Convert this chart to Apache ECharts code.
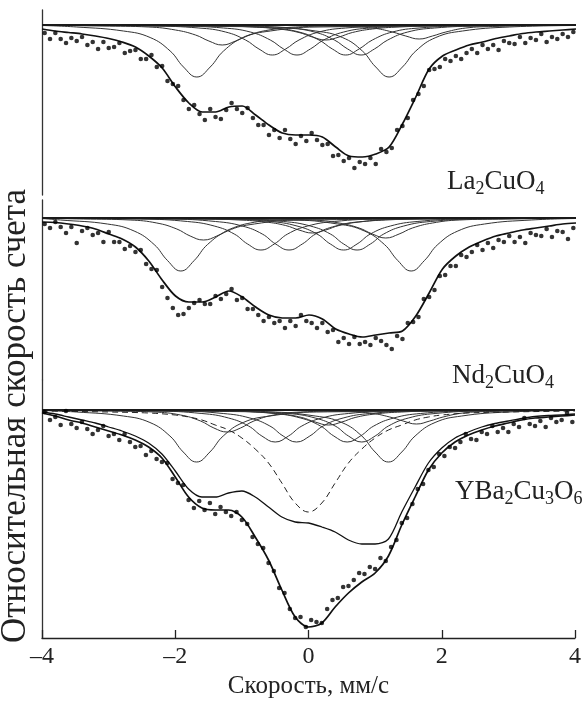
<!DOCTYPE html>
<html>
<head>
<meta charset="utf-8">
<script src="https://cdn.jsdelivr.net/npm/echarts@6/dist/echarts.min.js"></script>
<style>
html,body{margin:0;padding:0;background:#fff;}
#chart{width:584px;height:701px;}
</style>
</head>
<body>
<div id="chart"></div>
<script>
// ---------- DATA ----------
// velocity channels of the measured points, mm/s
const velocity = [
-3.96,-3.88,-3.80,-3.72,-3.64,-3.56,-3.48,-3.40,-3.32,-3.24,
-3.16,-3.08,-3.00,-2.92,-2.84,-2.76,-2.68,-2.60,-2.52,-2.44,
-2.36,-2.28,-2.20,-2.12,-2.04,-1.96,-1.88,-1.80,-1.72,-1.64,
-1.56,-1.48,-1.40,-1.32,-1.24,-1.16,-1.08,-1.00,-0.92,-0.84,
-0.76,-0.68,-0.60,-0.52,-0.44,-0.36,-0.28,-0.20,-0.12,-0.04,
0.04,0.12,0.20,0.28,0.36,0.44,0.52,0.60,0.68,0.76,
0.84,0.92,1.00,1.08,1.16,1.24,1.32,1.40,1.48,1.56,
1.64,1.72,1.80,1.88,1.96,2.04,2.12,2.20,2.28,2.36,
2.44,2.52,2.60,2.68,2.76,2.84,2.92,3.00,3.08,3.16,
3.24,3.32,3.40,3.48,3.56,3.64,3.72,3.80,3.88,3.96];

// velocities at which the fitted envelopes were read
const fitVelocity = [-4,-3.8,-3.6,-3.4,-3.2,-3,-2.8,-2.6,-2.4,-2.2,-2,-1.8,-1.6,-1.4,-1.2,-1,-0.8,-0.6,-0.4,-0.2,0,
0.2,0.4,0.6,0.8,1,1.2,1.4,1.6,1.8,2,2.2,2.4,2.6,2.8,3,3.2,3.4,3.6,3.8,4];

// relative count rate x1000
const laPoints = [992,986,992,986,982,987,984,988,980,983,
976,983,977,978,982,972,974,975,966,966,
970,958,959,944,941,939,925,916,920,911,
905,916,908,906,915,922,916,912,917,907,
900,900,890,895,887,895,886,881,889,884,
892,885,880,881,869,870,864,867,857,863,
861,867,861,876,873,877,895,899,907,925,
931,939,955,956,958,966,964,969,966,972,
976,972,980,976,980,975,984,982,981,988,
982,987,985,991,983,988,986,991,988,993];
const laFit = [996,994,992.5,991,989,986.5,983,978,969,957,938,922,913,913,918,919,910,900,892,890,890,
888,878,869,868,871,878,901,928,956,969,975,980,983,986.5,989,991.5,993,994,995,996];
const laCompX = [
 [-4,-3.48,-2.78,-2.38,-2.08,-1.88,-1.68,-1.48,-1.28,-0.98,-0.58,0.12,4],
 [-4,-0.6,0.1,0.5,0.8,1.0,1.2,1.4,1.6,1.9,2.3,3.0,4],
 [-4,-3.1,-2.4,-2.0,-1.7,-1.5,-1.3,-1.1,-0.9,-0.6,-0.2,0.5,4],
 [-4,-2.35,-1.65,-1.25,-0.95,-0.75,-0.55,-0.35,-0.15,0.15,0.55,1.25,4],
 [-4,-1.98,-1.28,-0.88,-0.58,-0.38,-0.18,0.02,0.22,0.52,0.92,1.62,4],
 [-4,-1.25,-0.55,-0.15,0.15,0.35,0.55,0.75,0.95,1.25,1.65,2.35,4],
 [-4,-1.02,-0.32,0.08,0.38,0.58,0.78,0.98,1.18,1.48,1.88,2.58,4],
 [-4,-1.55,-0.85,-0.45,-0.15,0.05,0.25,0.45,0.65,0.95,1.35,2.05,4],
 [-4,-0.15,0.55,0.95,1.25,1.45,1.65,1.85,2.05,2.35,2.75,3.45,4]];
const laCompY = [
 [999.5,998,994,987.5,974,958,948,958,974,987.5,994,998,999.5],
 [999.5,998,994,987.5,974,958,948,958,974,987.5,994,998,999.5],
 [999.7,999,998,995,990,984,980,984,990,995,998,999,999.7],
 [999.8,999,997,993,985,976,970,976,985,993,997,999,999.8],
 [999.8,999,997,993,985,976,970,976,985,993,997,999,999.8],
 [999.8,999,997,993,985,976,970,976,985,993,997,999,999.8],
 [999.8,999,997,993,985,976,970,976,985,993,997,999,999.8],
 [999.8,999.5,998,996,992.5,988,985,988,992.5,996,998,999.5,999.8],
 [999.8,999.5,998.5,997,993,989,986,989,993,997,998.5,999.5,999.8]];

const ndPoints = [994,990,996,991,985,991,975,987,990,983,
985,976,986,976,976,969,972,966,968,954,
949,948,931,920,910,903,904,910,915,918,
914,914,922,919,924,929,918,920,909,909,
903,897,901,895,897,890,897,892,903,897,
895,890,895,886,888,876,880,874,881,874,
876,873,880,877,873,869,882,879,895,896,
901,919,921,928,942,943,952,952,963,961,
966,973,968,975,970,978,976,982,976,981,
975,985,983,982,989,981,987,986,979,990];
const ndFit = [996,995.5,994,992,989,984,979,971,957,938,922,916,916,921,927,921,911,903,900,900,903,
899,889,884,881,883,885,887,902,925,949,962,971,977,982,985,988,990,992,994,995];
const ndCompX = [
 [-4,-3.72,-3.02,-2.62,-2.32,-2.12,-1.92,-1.72,-1.52,-1.22,-0.82,-0.12,4],
 [-4,-0.27,0.43,0.83,1.13,1.33,1.53,1.73,1.93,2.23,2.63,3.33,4],
 [-4,-3.38,-2.68,-2.28,-1.98,-1.78,-1.58,-1.38,-1.18,-0.88,-0.48,0.22,4],
 [-4,-2.52,-1.82,-1.42,-1.12,-0.92,-0.72,-0.52,-0.32,-0.02,0.38,1.08,4],
 [-4,-2.1,-1.4,-1.0,-0.7,-0.5,-0.3,-0.1,0.1,0.4,0.8,1.5,4],
 [-4,-1.28,-0.58,-0.18,0.12,0.32,0.52,0.72,0.92,1.22,1.62,2.32,4],
 [-4,-1.08,-0.38,0.02,0.32,0.52,0.72,0.92,1.12,1.42,1.82,2.52,4],
 [-4,-1.75,-1.05,-0.65,-0.35,-0.15,0.05,0.25,0.45,0.75,1.15,1.85,4],
 [-4,-0.65,0.05,0.45,0.75,0.95,1.15,1.35,1.55,1.85,2.25,2.95,4]];
const ndCompY = [
 [999.5,998,994,987,973.5,957.5,947,957.5,973.5,987,994,998,999.5],
 [999.5,998,994,987,973.5,957.5,947,957.5,973.5,987,994,998,999.5],
 [999.7,999,998,995,989,982,978,982,989,995,998,999,999.7],
 [999.7,999,996.5,992,984,974,968,974,984,992,996.5,999,999.7],
 [999.7,999,996.5,992,984,974,968,974,984,992,996.5,999,999.7],
 [999.7,999,996.5,992,984,974,968,974,984,992,996.5,999,999.7],
 [999.7,999,996.5,992,984,974,968,974,984,992,996.5,999,999.7],
 [999.8,999.5,998,996,992.5,988,985,988,992.5,996,998,999.5,999.8],
 [999.7,999,998,995,990,984,980,984,990,995,998,999,999.7]];

const ybPoints = [998,990,993,985,999,986,982,988,981,976,
980,984,974,976,970,976,968,963,964,955,
959,951,948,947,931,927,925,910,902,909,
900,907,896,903,898,894,898,890,886,873,
866,862,847,839,822,817,801,792,793,783,
790,788,787,801,810,812,823,824,830,837,
836,843,841,852,849,863,870,887,892,906,
921,926,940,943,956,954,963,962,968,976,
971,970,978,976,984,978,982,978,986,983,
992,986,984,989,983,992,988,990,997,988];
const ybFit = [997,994,990,987,983,979,975,970,963,952,933,913,902,900,900,893,873,850,820,793,783,
787,803,817,828,837,854,885,913,940,957,968,975,980,984,987,990,992,993,994,995];
// sum of the doublet components (solid thin envelope)
const ybDoublets = [998,996,993,990,987,983,979,974,967,956,939,921,913,913,917,919,913,903,893,888,887,
883,878,870,866,866,871,898,923,947,962,972,978,983,986.5,989,991.5,993.5,994.5,995,996];
// central singlet (dashed)
const ybSingletX = [-4,-3,-2.4,-2,-1.8,-1.6,-1.4,-1.2,-1,-0.8,-0.6,-0.4,-0.2,0,0.2,0.4,0.6,0.8,1,1.2,1.4,1.6,1.8,2,2.4,3,4];
const ybSingletY = [999,998,997,995,993,990,985,980,972,961,947,927,907,898,907,927,947,961,972,980,985,990,993,995,997,998,999];
const ybCompX = [
 [-4,-3.48,-2.78,-2.38,-2.08,-1.88,-1.68,-1.48,-1.28,-0.98,-0.58,0.12,4],
 [-4,-0.6,0.1,0.5,0.8,1.0,1.2,1.4,1.6,1.9,2.3,3.0,4],
 [-4,-3.02,-2.32,-1.92,-1.62,-1.42,-1.22,-1.02,-0.82,-0.52,-0.12,0.58,4],
 [-4,-2.3,-1.6,-1.2,-0.9,-0.7,-0.5,-0.3,-0.1,0.2,0.6,1.3,4],
 [-4,-1.98,-1.28,-0.88,-0.58,-0.38,-0.18,0.02,0.22,0.52,0.92,1.62,4],
 [-4,-1.22,-0.52,-0.12,0.18,0.38,0.58,0.78,0.98,1.28,1.68,2.38,4],
 [-4,-1.0,-0.3,0.1,0.4,0.6,0.8,1.0,1.2,1.5,1.9,2.6,4],
 [-4,-1.5,-0.8,-0.4,-0.1,0.1,0.3,0.5,0.7,1.0,1.4,2.1,4],
 [-4,-0.18,0.52,0.92,1.22,1.42,1.62,1.82,2.02,2.32,2.72,3.42,4]];
const ybCompY = [
 [999.5,998,994,987.5,974,958,948,958,974,987.5,994,998,999.5],
 [999.5,998,994,987.5,974,958,948,958,974,987.5,994,998,999.5],
 [999.7,999,998,995,989,982,978,982,989,995,998,999,999.7],
 [999.7,999,996.5,992,984,974,968,974,984,992,996.5,999,999.7],
 [999.7,999,996.5,992,984,974,968,974,984,992,996.5,999,999.7],
 [999.7,999,996.5,992,984,974,968,974,984,992,996.5,999,999.7],
 [999.7,999,996.5,992,984,974,968,974,984,992,996.5,999,999.7],
 [999.8,999.5,998,996,992.5,988,985,988,992.5,996,998,999.5,999.8],
 [999.8,999.5,998.5,997,993,989,986,989,993,997,998.5,999.5,999.8]];

const baseline = 1000;
const xTicks = [-4, -2, 0, 2, 4];
const sampleNames = ['La{s|2}CuO{s|4}', 'Nd{s|2}CuO{s|4}', 'YBa{s|2}Cu{s|3}O{s|6}'];
const yTitle = 'Относительная скорость счета';
const xTitle = 'Скорость, мм/с';

// ---------- CHART ----------
const FONT = '"Liberation Serif", "Times New Roman", serif';
const chart = echarts.init(document.getElementById('chart'), null, {renderer: 'canvas'});

const grids = [
  {left: 42, right: 8, top: 10, height: 185},
  {left: 42, right: 8, top: 200, height: 180},
  {left: 42, right: 8, top: 380, height: 258}
];
const yRanges = [[830, 1015], [838, 1018], [772, 1030]];

const xAxes = grids.map((g, i) => ({
  type: 'value', gridIndex: i, min: -4, max: 4, interval: 2,
  show: i === 2,
  axisLine: {show: true, onZero: false, lineStyle: {color: '#222', width: 1.3}},
  axisTick: {show: true, inside: true, length: 8, lineStyle: {color: '#222', width: 1.3}},
  splitLine: {show: false},
  axisLabel: {
    show: i === 2, margin: 7, color: '#222', fontFamily: FONT, fontSize: 24,
    formatter: v => xTicks.includes(v) ? (v < 0 ? '\u2013' + Math.abs(v) : String(v)) : ''
  },
  name: i === 2 ? xTitle : '',
  nameLocation: 'middle', nameGap: 36,
  nameTextStyle: {color: '#222', fontFamily: FONT, fontSize: 25}
}));
const yAxes = grids.map((g, i) => ({
  type: 'value', gridIndex: i, min: yRanges[i][0], max: yRanges[i][1],
  axisLine: {show: true, onZero: false, lineStyle: {color: '#333', width: 1.3}},
  axisTick: {show: false}, axisLabel: {show: false}, splitLine: {show: false}
}));

const series = [];
function addPanel(idx, points, fit, compX, compY) {
  compX.forEach((xs, j) => {
    series.push({
      type: 'line', xAxisIndex: idx, yAxisIndex: idx, smooth: 0.45, symbol: 'none',
      lineStyle: {color: '#333', width: 1}, z: 2,
      data: xs.map((v, k) => [v, compY[j][k]])
    });
  });
  series.push({
    type: 'line', xAxisIndex: idx, yAxisIndex: idx, symbol: 'none',
    lineStyle: {color: '#1a1a1a', width: 1.8}, z: 3,
    data: [[-4, baseline], [4, baseline]]
  });
  series.push({
    type: 'line', xAxisIndex: idx, yAxisIndex: idx, smooth: 0.3, symbol: 'none',
    lineStyle: {color: '#111', width: 1.7}, z: 4,
    data: fitVelocity.map((v, k) => [v, fit[k]])
  });
  series.push({
    type: 'scatter', xAxisIndex: idx, yAxisIndex: idx, symbol: 'circle', symbolSize: 4.6,
    itemStyle: {color: '#000'}, z: 5,
    data: velocity.map((v, k) => [v, points[k]])
  });
}
addPanel(0, laPoints, laFit, laCompX, laCompY);
addPanel(1, ndPoints, ndFit, ndCompX, ndCompY);
addPanel(2, ybPoints, ybFit, ybCompX, ybCompY);
series.push({
  type: 'line', xAxisIndex: 2, yAxisIndex: 2, smooth: 0.3, symbol: 'none',
  lineStyle: {color: '#111', width: 1.3}, z: 4,
  data: fitVelocity.map((v, k) => [v, ybDoublets[k]])
});
series.push({
  type: 'line', xAxisIndex: 2, yAxisIndex: 2, smooth: 0.4, symbol: 'none',
  lineStyle: {color: '#222', width: 1, type: [6, 4]}, z: 3,
  data: ybSingletX.map((v, k) => [v, ybSingletY[k]])
});

const labelPos = [[447, 166], [452, 360], [455, 476]];
const titles = sampleNames.map((t, i) => ({
  text: t, left: labelPos[i][0], top: labelPos[i][1], padding: 0,
  textStyle: {
    fontFamily: FONT, fontWeight: 'normal', fontSize: 27, color: '#222', lineHeight: 32,
    rich: {s: {fontFamily: FONT, fontSize: 18, lineHeight: 14, verticalAlign: 'bottom', color: '#222'}}
  }
}));

chart.setOption({
  animation: false,
  backgroundColor: '#fff',
  title: titles,
  grid: grids,
  xAxis: xAxes,
  yAxis: yAxes,
  series: series,
  graphic: [{
    type: 'text', x: 16, y: 416, rotation: Math.PI / 2,
    style: {text: yTitle, font: '35px ' + FONT, fill: '#222', textAlign: 'center', textVerticalAlign: 'middle', verticalAlign: 'middle'}
  }]
});
</script>
</body>
</html>
